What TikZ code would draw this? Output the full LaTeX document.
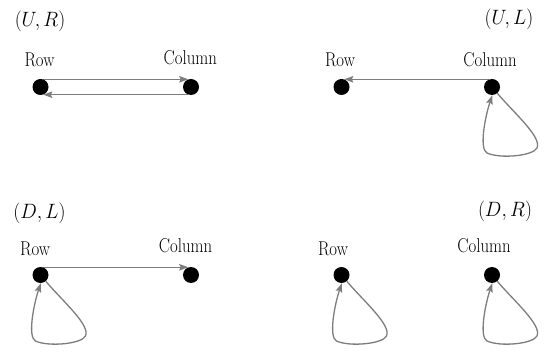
\documentclass[tikz,border=0pt]{standalone}
\usepackage{graphicx}
\usetikzlibrary{arrows.meta}
\definecolor{edgegray}{RGB}{125,125,125}
\pgfdeclarelayer{bg}
\pgfsetlayers{bg,main}
\newcommand\lbltext[1]{\scalebox{0.84}[1]{\fontsize{20}{20}\selectfont #1}}
\newcommand\mathlbl[1]{\scalebox{0.95}[1]{\fontsize{22}{22}\selectfont $#1$}}
\newcommand\selfloop[1]{%
  \begin{scope}[shift={(#1.center)}]
    \draw[edge] (#1.-50) .. controls (22,26) and (50,50) .. (45,61)
      .. controls (41,69) and (8,72) .. (-5,66)
      .. controls (-13,62) and (-7,30) .. (#1.-88);
  \end{scope}}
\tikzset{
  dot/.style={circle,fill=black,draw=none,minimum size=16pt,inner sep=0pt},
  lbl/.style={anchor=base,inner sep=0pt},
  ttl/.style={anchor=base,inner sep=0pt},
  edge/.style={draw=edgegray,line width=1.3pt,-{Stealth[length=9pt,width=6.5pt,inset=1.5pt]}}
}
\begin{document}
\begin{tikzpicture}[x=1pt,y=-1pt]
\useasboundingbox (0,0) rectangle (548,352);
% Panel (U,R)
\node[ttl] (t1) at (40,26.5) {\mathlbl{(U,R)}};
\node[lbl] (lr1) at (39.5,67) {\lbltext{Row}};
\node[lbl] (lc1) at (190.3,65) {\lbltext{Column}};
\node[dot] (r1) at (40.5,87) {};
\node[dot] (c1) at (191,87) {};
% Panel (U,L)
\node[ttl] (t2) at (509,25) {\mathlbl{(U,L)}};
\node[lbl] (lr2) at (340,67) {\lbltext{Row}};
\node[lbl] (lc2) at (490,67) {\lbltext{Column}};
\node[dot] (r2) at (341.5,87) {};
\node[dot] (c2) at (492,87) {};
% Panel (D,L)
\node[ttl] (t3) at (39.5,218.5) {\mathlbl{(D,L)}};
\node[lbl] (lr3) at (35.2,256) {\lbltext{Row}};
\node[lbl] (lc3) at (185.5,253) {\lbltext{Column}};
\node[dot] (r3) at (40.5,275) {};
\node[dot] (c3) at (191,275) {};
% Panel (D,R)
\node[ttl] (t4) at (505,216.5) {\mathlbl{(D,R)}};
\node[lbl] (lr4) at (333,256) {\lbltext{Row}};
\node[lbl] (lc4) at (484,253) {\lbltext{Column}};
\node[dot] (r4) at (341.5,275) {};
\node[dot] (c4) at (492,275) {};
\begin{pgfonlayer}{bg}
  \draw[edge] (r1.70) -- (c1.110);
  \draw[edge] (c1.250) -- (r1.290);
  \draw[edge] (c2.110) -- (r2.70);
  \selfloop{c2}
  \draw[edge] (r3.70) -- (c3.110);
  \selfloop{r3}
  \selfloop{r4}
  \selfloop{c4}
\end{pgfonlayer}
\end{tikzpicture}
\end{document}
